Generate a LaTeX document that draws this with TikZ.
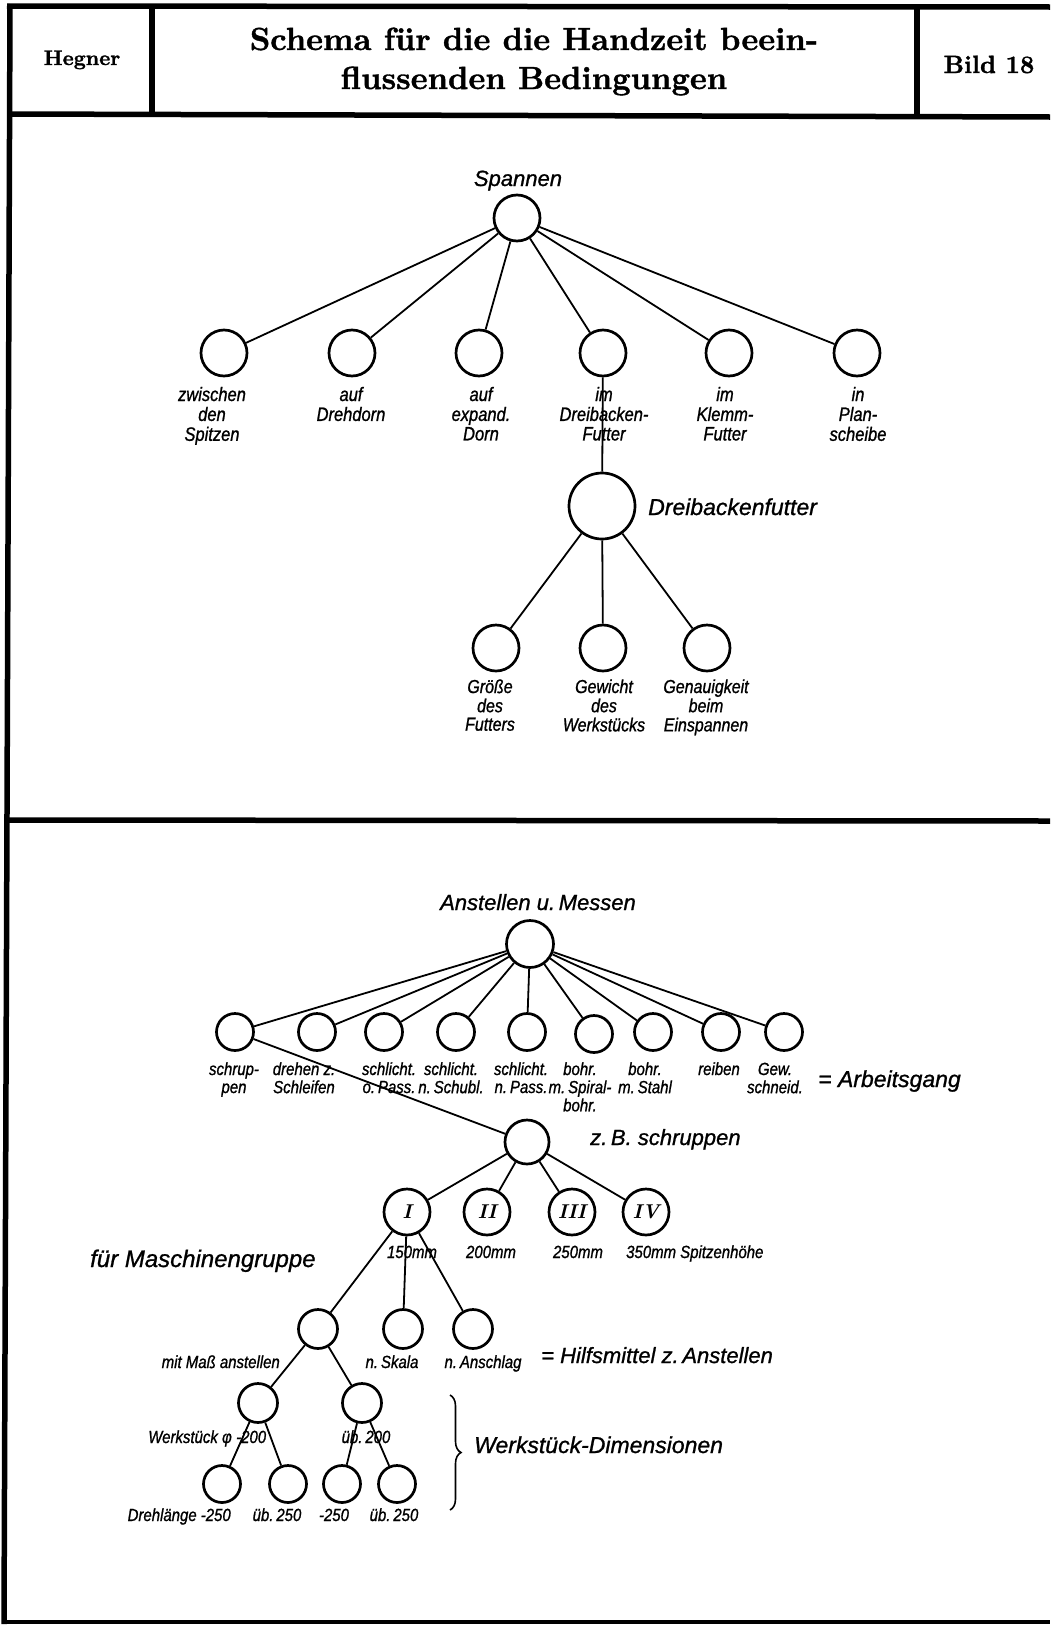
\documentclass[tikz,border=0pt]{standalone}
\usepackage{fontspec}
\newfontfamily\hand[FakeBold=1]{Liberation Sans}
\newfontfamily\handn[FakeStretch=0.85,FakeBold=1]{Liberation Sans}
\newfontfamily\headf[FakeBold=1.2]{lmroman10-bold.otf}
\usetikzlibrary{decorations.pathreplacing}
\newcommand\lab[1]{\begin{tabular}[t]{@{}c@{}}#1\end{tabular}}
\begin{document}
\begin{tikzpicture}[x=1pt,y=-1pt,
  nd/.style={circle,draw,line width=2.7pt,minimum size=#1,inner sep=0pt,fill=white},
  con/.style={line width=1.8pt},
  frame/.style={line width=5.5pt},
  big/.style={font=\hand\itshape\fontsize{22}{26}\selectfont,inner sep=0pt},
  smA/.style={font=\handn\itshape\fontsize{19.4}{19.5}\selectfont,inner sep=0pt,anchor=base},
  smD/.style={font=\handn\itshape\fontsize{18.8}{18.5}\selectfont,inner sep=0pt,anchor=base},
  smB/.style={font=\handn\itshape\fontsize{17.6}{18}\selectfont,inner sep=0pt,anchor=base},
  roman/.style={font=\bfseries\itshape\fontsize{20}{24}\selectfont},
  head/.style={inner sep=0pt,anchor=base}
]
\useasboundingbox[fill=white] (0,0) rectangle (1050,1625);
% frame
\draw[frame] (10,4) -- (4,1624);
\draw[frame] (7,6) -- (1050,7);
\draw[frame] (8,114) -- (1050,117);
\draw[frame] (152,6) -- (152,114);
\draw[frame] (917,7) -- (917,116);
\draw[frame] (6,820) -- (1050,821);
\draw[line width=4pt] (3,1622) -- (1050,1622);
% header
\node[head,font=\headf\fontsize{21}{24}\selectfont] (hg) at (82,65) {Hegner};
\node[head,font=\headf\fontsize{32}{38}\selectfont] (t1) at (534,50) {Schema für die die Handzeit beein-};
\node[head,font=\headf\fontsize{32}{38}\selectfont] (t2) at (534,89) {flussenden Bedingungen};
\node[head,font=\headf\fontsize{25}{30}\selectfont] (bild) at (989,73) {Bild 18};

% ---------- top tree ----------
\node[nd=46] (sp) at (517,218) {};
\node[big,anchor=base] (spL) at (518,186) {Spannen};
\node[nd=46] (c1) at (224,353) {};
\node[nd=46] (c2) at (352,353) {};
\node[nd=46] (c3) at (479,353) {};
\node[nd=46] (c4) at (603,353) {};
\node[nd=46] (c5) at (729,353) {};
\node[nd=46] (c6) at (857,353) {};
\node[smA] (l1) at (212,401) {\lab{zwischen\\den\\Spitzen}};
\node[smA] (l2) at (351,401) {\lab{auf\\Drehdorn}};
\node[smA] (l3) at (481,401) {\lab{auf\\expand.\\Dorn}};
\node[smA] (l4) at (604,401) {\lab{im\\Dreibacken-\\Futter}};
\node[smA] (l5) at (725,401) {\lab{im\\Klemm-\\Futter}};
\node[smA] (l6) at (858,401) {\lab{in\\Plan-\\scheibe}};
\node[nd=66] (dbf) at (602,506) {};
\node[big,anchor=base west,font=\hand\itshape\fontsize{23}{27}\selectfont] (dbfL) at (648,515) {Dreibackenfutter};
\node[nd=46] (d1) at (496,648) {};
\node[nd=46] (d2) at (603,648) {};
\node[nd=46] (d3) at (707,648) {};
\node[smD] (k1) at (490,693) {\lab{Größe\\des\\Futters}};
\node[smD] (k2) at (604,693) {\lab{Gewicht\\des\\Werkstücks}};
\node[smD] (k3) at (706,693) {\lab{Genauigkeit\\beim\\Einspannen}};
\foreach \c in {c1,c2,c3,c4,c5,c6} \draw[con] (sp) -- (\c);
\draw[con] (c4) -- (dbf);
\foreach \c in {d1,d2,d3} \draw[con] (dbf) -- (\c);

% ---------- bottom tree ----------
\node[nd=47] (am) at (530,944) {};
\node[big,anchor=base] (amL) at (538,910) {Anstellen u.\,Messen};
\node[nd=37] (a1) at (235,1032) {};
\node[nd=37] (a2) at (317,1032) {};
\node[nd=37] (a3) at (384,1032) {};
\node[nd=37] (a4) at (456,1032) {};
\node[nd=37] (a5) at (527,1032) {};
\node[nd=37] (a6) at (594,1034) {};
\node[nd=37] (a7) at (653,1032) {};
\node[nd=37] (a8) at (721,1032) {};
\node[nd=37] (a9) at (784,1032) {};
\node[smB] (b1) at (234,1075) {\lab{schrup-\\pen}};
\node[smB] (b2) at (304,1075) {\lab{drehen z.\\Schleifen}};
\node[smB] (b3) at (389,1075) {\lab{schlicht.\\o.\,Pass.}};
\node[smB] (b4) at (451,1075) {\lab{schlicht.\\n.\,Schubl.}};
\node[smB] (b5) at (521,1075) {\lab{schlicht.\\n.\,Pass.}};
\node[smB] (b6) at (580,1075) {\lab{bohr.\\m.\,Spiral-\\bohr.}};
\node[smB] (b7) at (645,1075) {\lab{bohr.\\m.\,Stahl}};
\node[smB] (b8) at (719,1075) {\lab{reiben}};
\node[smB] (b9) at (775,1075) {\lab{Gew.\\schneid.}};
\node[big,anchor=base west,font=\hand\itshape\fontsize{23}{27}\selectfont] (arb) at (818,1087) {= Arbeitsgang};
\foreach \c in {a1,a2,a3,a4,a5,a6,a7,a8,a9} \draw[con] (am) -- (\c);

\node[nd=44] (zb) at (527,1142) {};
\node[big,anchor=base west] (zbL) at (590,1145) {z.\,B. schruppen};
\draw[con] (a1) -- (zb);

\node[nd=46,roman] (r1) at (407,1212) {I};
\node[nd=46,roman] (r2) at (487,1212) {II};
\node[nd=46,roman] (r3) at (572,1212) {III};
\node[nd=46,roman] (r4) at (646,1212) {IV};
\foreach \c in {r1,r2,r3,r4} \draw[con] (zb) -- (\c);
\node[smB] (s1) at (412,1258) {150mm};
\node[smB] (s2) at (491,1258) {200mm};
\node[smB] (s3) at (578,1258) {250mm};
\node[smB,anchor=base west] (s4) at (626,1258) {350mm Spitzenhöhe};
\node[big,anchor=base west,font=\hand\itshape\fontsize{24}{28}\selectfont] (mg) at (90,1267) {für Maschinengruppe};

\node[nd=39] (m1) at (318,1329) {};
\node[nd=39] (m2) at (403,1329) {};
\node[nd=39] (m3) at (473,1329) {};
\foreach \c in {m1,m2,m3} \draw[con] (r1) -- (\c);
\node[smB,anchor=base east] (n1) at (280,1368) {mit Maß anstellen};
\node[smB] (n2) at (392,1368) {n.\,Skala};
\node[smB] (n3) at (483,1368) {n.\,Anschlag};
\node[big,anchor=base west] (hm) at (541,1363) {= Hilfsmittel z.\,Anstellen};

\node[nd=39] (w1) at (258,1403) {};
\node[nd=39] (w2) at (362,1403) {};
\draw[con] (m1) -- (w1);
\draw[con] (m1) -- (w2);
\node[smB,anchor=base east] (o1) at (232,1443) {Werkstück φ};
\node[smB,anchor=base west] (o2) at (236,1443) {-200};
\node[smB] (o3) at (366,1443) {üb.\,200};

\node[nd=37] (e1) at (222,1484) {};
\node[nd=37] (e2) at (288,1484) {};
\node[nd=37] (e3) at (342,1484) {};
\node[nd=37] (e4) at (397,1484) {};
\draw[con] (w1) -- (e1);
\draw[con] (w1) -- (e2);
\draw[con] (w2) -- (e3);
\draw[con] (w2) -- (e4);
\node[smB,anchor=base east] (q1) at (231,1521) {Drehlänge -250};
\node[smB] (q2) at (277,1521) {üb.\,250};
\node[smB] (q3) at (334,1521) {-250};
\node[smB] (q4) at (394,1521) {üb.\,250};

\coordinate (brT) at (450,1395);
\coordinate (brB) at (450,1510);
\draw[line width=1.6pt,decorate,decoration={brace,amplitude=11pt}] (brT) -- (brB);
\node[big,anchor=base west,font=\hand\itshape\fontsize{23}{27}\selectfont] (wd) at (474,1453) {Werkstück-Dimensionen};
\end{tikzpicture}
\end{document}
